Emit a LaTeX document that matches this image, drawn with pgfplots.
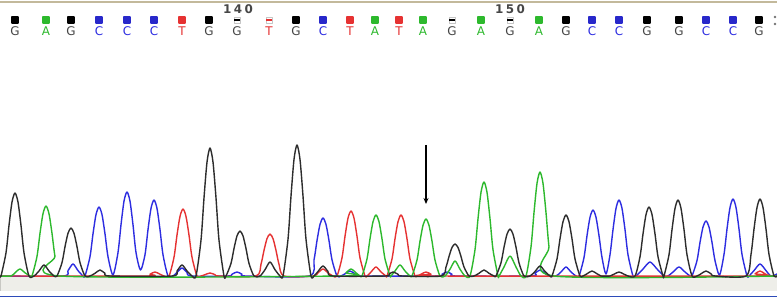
\documentclass[border=0pt]{standalone}
\usepackage{fontspec}
\setmainfont{DejaVu Sans}
\usepackage{pgfplots}
\pgfplotsset{compat=1.18}
\usetikzlibrary{arrows.meta}
\definecolor{trK}{RGB}{45,45,45}
\definecolor{trB}{RGB}{45,45,225}
\definecolor{trR}{RGB}{230,50,50}
\definecolor{trG}{RGB}{45,185,45}
\definecolor{lbK}{RGB}{70,70,70}
\definecolor{topline}{RGB}{195,185,155}
\definecolor{band}{RGB}{238,238,233}
\definecolor{bandedge}{RGB}{200,200,195}
\definecolor{blueline}{RGB}{45,75,185}
\begin{document}
\begin{tikzpicture}
\begin{axis}[
  scale only axis, width=777bp, height=300bp,
  xmin=0, xmax=777, ymin=-24, ymax=276,
  hide axis, clip=true,
  every axis plot/.append style={line width=1.4bp, line join=round},
]
% background and frame elements
\fill[white] (axis cs:0,-24) rectangle (axis cs:777,276);
\addplot[draw=topline, line width=2bp] coordinates {(0,274) (777,274)};
\addplot[draw=none, fill=band] coordinates {(0,-1.5) (777,-1.5) (777,-15) (0,-15)} -- cycle;
\addplot[draw=bandedge, line width=0.6bp] coordinates {(0.5,-1.5) (0.5,-15)};
\addplot[draw=blueline, line width=1.6bp] coordinates {(0,-20.5) (777,-20.5)};
\addplot[only marks, mark=*, mark size=0.7bp, color=gray] coordinates {(775,259) (775,252)};

% ---------------- traces ----------------
% blue (C)
\addplot[trB, smooth, tension=0.45] coordinates {
(0,0) (63,0) (68,5.4) (73,12) (78,5.4) (83,0)
(85,0) (90,19.3) (93,42.1) (96,61.4) (99,69) (102,61.4) (105,42.1) (108,19.3) (113,1)
(118,23.5) (121,51.2) (124,74.8) (127,84) (130,74.8) (133,51.2) (136,23.5) (140.5,6)
(145,21.3) (148,46.4) (151,67.6) (154,76) (157,67.6) (160,46.4) (163,21.3) (168,0)
(173,0) (177,3.6) (182,8) (187,3.6) (191,0)
(228,0) (232,1.8) (237,4) (242,1.8) (246,0)
(309,0) (314,16.2) (317,35.4) (320,51.6) (323,58) (326,51.6) (329,35.4) (332,16.2) (337,0)
(341,0) (345,2.2) (350,5) (355,2.2) (359,0)
(438,0) (442,1.8) (447,4) (452,1.8) (456,0)
(531,0) (535,2.7) (540,6) (545,2.7) (549,0)
(556,0) (561,4) (566,9) (571,4) (576,0)
(579,0) (584,18.5) (587,40.3) (590,58.7) (593,66) (596,58.7) (599,40.3) (602,18.5) (606,2)
(610,21.3) (613,46.4) (616,67.6) (619,76) (622,67.6) (625,46.4) (628,21.3) (633,0)
(636,0) (643,7) (650,14) (657,7) (664,0)
(668,0) (673,4) (679,9) (685,4) (690,0)
(692,0) (697,15.4) (700,33.6) (703,49) (706,55) (709,49) (712,33.6) (715,15.4) (719.5,1)
(724,21.6) (727,47) (730,68.5) (733,77) (736,68.5) (739,47) (742,21.6) (747,0)
(749,0) (754,5.4) (760,12) (766,5.4) (771,0) (777,2)
};
% red (T)
\addplot[trR, smooth, tension=0.45] coordinates {
(0,0) (146,0) (150,1.8) (155,4) (160,1.8) (164,0)
(169,0) (174,18.8) (177,40.9) (180,59.6) (183,67) (186,59.6) (189,40.9) (192,18.8) (197,0)
(201,0) (205,1.3) (210,3) (215,1.3) (219,0)
(256,0) (261,11.8) (264,25.6) (267,37.4) (270,42) (273,37.4) (276,25.6) (279,11.8) (284,0)
(313,0) (318,3.2) (323,7) (328,3.2) (333,0)
(337,0) (342,18.2) (345,39.7) (348,57.9) (351,65) (354,57.9) (357,39.7) (360,18.2) (365,0)
(367,0) (371,4) (376,9) (381,4) (386,0)
(387,0) (392,17.1) (395,37.2) (398,54.3) (401,61) (404,54.3) (407,37.2) (410,17.1) (415,0)
(417,0) (421,1.8) (426,4) (431,1.8) (435,0)
(751,0) (755,2.2) (760,5) (765,2.2) (769,0) (777,0)
};
% green (A)
\addplot[trG, smooth, tension=0.45] coordinates {
(0,0) (11,0) (15,3.2) (20,7) (25,3.2) (30,0)
(32,0) (37,19.6) (40,42.7) (43,62.3) (46,70) (49,62.3) (52,42.7) (55,19.6) (60,0)
(342,0) (346,3.2) (351,7) (356,3.2) (360,0)
(362,0) (367,17.1) (370,37.2) (373,54.3) (376,61) (379,54.3) (382,37.2) (385,17.1) (390,0)
(391,0) (395,5) (400,11) (405,5) (410,0)
(412,0) (417,16) (420,34.8) (423,50.7) (426,57) (429,50.7) (432,34.8) (435,16) (440,0)
(445,0) (450,6.8) (455,15) (460,6.8) (465,0)
(470,0) (475,26.3) (478,57.3) (481,83.7) (484,94) (487,83.7) (490,57.3) (493,26.3) (498,0)
(499,0) (504,9) (510,20) (516,9) (521,0)
(526,0) (531,29.1) (534,63.4) (537,92.6) (540,104) (543,92.6) (546,63.4) (549,29.1) (554,0)
(777,0)
};
% black (G)
\addplot[trK, smooth, tension=0.45] coordinates {
(0,0) (1,0) (6,23.2) (9,50.6) (12,73.9) (15,83) (18,73.9) (21,50.6) (24,23.2) (29,0)
(34,0) (39,5) (44,11) (49,5) (54,0)
(57,0) (62,13.4) (65,29.3) (68,42.7) (71,48) (74,42.7) (77,29.3) (80,13.4) (85,0)
(90,0) (95,2.7) (100,6) (105,2.7) (110,0)
(172,0) (177,5) (182,11) (187,5) (192,0)
(196,0) (201,35.8) (204,78.1) (207,113.9) (210,128) (213,113.9) (216,78.1) (219,35.8) (224,0)
(226,0) (231,12.6) (234,27.5) (237,40.1) (240,45) (243,40.1) (246,27.5) (249,12.6) (254,0)
(260,0) (265,6.3) (270,14) (275,6.3) (280,0)
(283,0) (288,36.7) (291,79.9) (294,116.6) (297,131) (300,116.6) (303,79.9) (306,36.7) (311,0)
(314,0) (318,4.5) (323,10) (328,4.5) (333,0)
(385,0) (389,1.8) (393,4) (398,1.8) (402,0)
(441,0) (446,9) (449,19.5) (452,28.5) (455,32) (458,28.5) (461,19.5) (464,9) (469,0)
(474,0) (479,2.7) (484,6) (489,2.7) (494,0)
(496,0) (501,13.2) (504,28.7) (507,41.8) (510,47) (513,41.8) (516,28.7) (519,13.2) (524,0)
(530,0) (535,4.5) (540,10) (545,4.5) (550,0)
(552,0) (557,17.1) (560,37.2) (563,54.3) (566,61) (569,54.3) (572,37.2) (575,17.1) (580,0)
(583,0) (587,2.2) (592,5) (597,2.2) (601,0)
(610,0) (614,1.8) (619,4) (624,1.8) (628,0)
(635,0) (640,19.3) (643,42.1) (646,61.4) (649,69) (652,61.4) (655,42.1) (658,19.3) (663,0)
(664,0) (669,21.3) (672,46.4) (675,67.6) (678,76) (681,67.6) (684,46.4) (687,21.3) (692,0)
(697,0) (701,2.2) (706,5) (711,2.2) (715,0)
(746,0) (751,21.6) (754,47) (757,68.5) (760,77) (763,68.5) (766,47) (769,21.6) (774,0) (777,0)
};

% ---------------- base call squares ----------------
\addplot[only marks, mark=square*, mark size=3.1bp, color=black] coordinates {
(15,256) (71,256) (209,256) (296,256) (566,256) (647,256) (679,256) (759,256)};
\addplot[only marks, mark=square*, mark size=3.1bp, color=trG] coordinates {
(46,256) (375,256) (423,256) (481,256) (539,256)};
\addplot[only marks, mark=square*, mark size=3.1bp, color=trB!90!black] coordinates {
(99,256) (127,256) (154,256) (323,256) (592,256) (619,256) (706,256) (733,256)};
\addplot[only marks, mark=square*, mark size=3.1bp, color=trR] coordinates {
(182,256) (350,256) (399,256)};
% low-quality calls: hollow squares with a bar
\addplot[only marks, mark=square*, mark size=3.1bp, mark options={fill=white, draw=gray!45, line width=0.6bp}] coordinates {
(237,256) (269,256) (452,256) (510,256)};
\addplot[only marks, mark=-, mark size=3bp, mark options={line width=2bp}, color=black] coordinates {
(237,256) (452,256) (510,256)};
\addplot[only marks, mark=-, mark size=3bp, mark options={line width=2bp}, color=trR] coordinates {
(269,256)};

% ---------------- base letters ----------------
\begin{scope}[every node/.style={font=\fontsize{12}{12}\selectfont, inner sep=0pt, anchor=center}]
\node[text=lbK] at (axis cs:15,245) {G};
\node[text=trG] at (axis cs:46,245) {A};
\node[text=lbK] at (axis cs:71,245) {G};
\node[text=trB] at (axis cs:99,245) {C};
\node[text=trB] at (axis cs:127,245) {C};
\node[text=trB] at (axis cs:154,245) {C};
\node[text=trR] at (axis cs:182,245) {T};
\node[text=lbK] at (axis cs:209,245) {G};
\node[text=lbK] at (axis cs:237,245) {G};
\node[text=trR] at (axis cs:269,245) {T};
\node[text=lbK] at (axis cs:296,245) {G};
\node[text=trB] at (axis cs:323,245) {C};
\node[text=trR] at (axis cs:350,245) {T};
\node[text=trG] at (axis cs:375,245) {A};
\node[text=trR] at (axis cs:399,245) {T};
\node[text=trG] at (axis cs:423,245) {A};
\node[text=lbK] at (axis cs:452,245) {G};
\node[text=trG] at (axis cs:481,245) {A};
\node[text=lbK] at (axis cs:510,245) {G};
\node[text=trG] at (axis cs:539,245) {A};
\node[text=lbK] at (axis cs:566,245) {G};
\node[text=trB] at (axis cs:592,245) {C};
\node[text=trB] at (axis cs:619,245) {C};
\node[text=lbK] at (axis cs:647,245) {G};
\node[text=lbK] at (axis cs:679,245) {G};
\node[text=trB] at (axis cs:706,245) {C};
\node[text=trB] at (axis cs:733,245) {C};
\node[text=lbK] at (axis cs:759,245) {G};
\node[text=lbK, font=\fontsize{12}{12}\selectfont\bfseries] at (axis cs:238,266.5) {1\kern2.5bp4\kern2.5bp0};
\node[text=lbK, font=\fontsize{12}{12}\selectfont\bfseries] at (axis cs:510,266.5) {1\kern2.5bp5\kern2.5bp0};
\end{scope}

% arrow marking the position
\draw[-{Stealth[length=6bp, width=5bp]}, line width=1.2bp, black] (axis cs:426,131) -- (axis cs:426,72);
\end{axis}
\end{tikzpicture}
\end{document}
